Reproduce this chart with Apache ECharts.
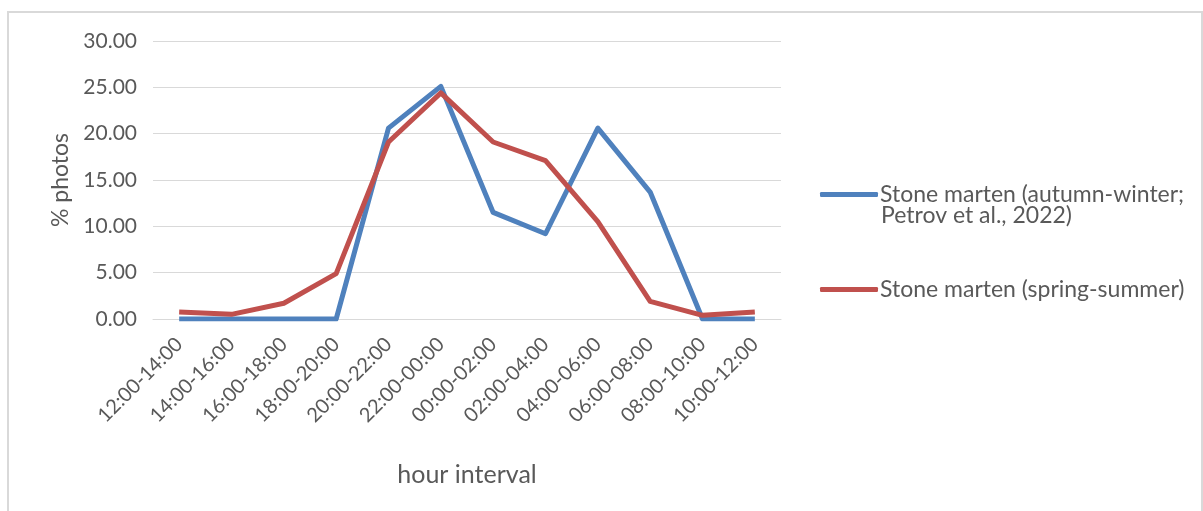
<!DOCTYPE html>
<html>
<head>
<meta charset="utf-8">
<script src="https://cdn.jsdelivr.net/npm/echarts@6/dist/echarts.min.js"></script>
<style>
html,body{margin:0;padding:0;background:#fff;}
#c{width:1203px;height:511px;}
</style>
</head>
<body>
<div id="c"></div>
<script>
const categories = ['12:00-14:00','14:00-16:00','16:00-18:00','18:00-20:00','20:00-22:00','22:00-00:00','00:00-02:00','02:00-04:00','04:00-06:00','06:00-08:00','08:00-10:00','10:00-12:00'];
const autumnWinter = [0.0, 0.0, 0.0, 0.0, 20.6, 25.1, 11.5, 9.2, 20.6, 13.7, 0.0, 0.0];
const springSummer = [0.75, 0.5, 1.7, 4.9, 19.1, 24.4, 19.1, 17.1, 10.5, 1.9, 0.4, 0.75];
const seriesNames = ['Stone marten (autumn-winter; Petrov et al., 2022)', 'Stone marten (spring-summer)'];
const yTicks = [0, 5, 10, 15, 20, 25, 30];

const FONT = 'Lato, "Open Sans", sans-serif';
const TXT = '#595959';
const chart = echarts.init(document.getElementById('c'), null, {renderer: 'canvas'});
chart.setOption({
  animation: false,
  backgroundColor: '#ffffff',
  graphic: [
    {type: 'rect', shape: {x: 8, y: 12, width: 1194, height: 520}, style: {fill: 'none', stroke: '#d9d9d9', lineWidth: 2}, silent: true, z: -1},
    {type: 'text', left: 881, top: 204, style: {text: 'Petrov et al., 2022)', font: '23px ' + FONT, fill: TXT}}
  ],
  grid: {left: 153, right: 422, top: 41, bottom: 192},
  legend: {
    orient: 'vertical',
    left: 815,
    top: 178,
    itemWidth: 58,
    itemHeight: 5,
    itemGap: 72,
    icon: 'roundRect',
    data: seriesNames,
    formatter: function (n) { return n === seriesNames[0] ? 'Stone marten (autumn-winter;' : n; },
    textStyle: {fontFamily: FONT, fontSize: 23, color: TXT, padding: [0, 0, 0, -3]}
  },
  xAxis: {
    type: 'category',
    data: categories,
    boundaryGap: true,
    name: 'hour interval',
    nameLocation: 'middle',
    nameGap: 143,
    nameTextStyle: {fontFamily: FONT, fontSize: 25, color: TXT},
    axisLine: {lineStyle: {color: '#d9d9d9', width: 1}},
    axisTick: {show: false},
    axisLabel: {rotate: 45, interval: 0, margin: 22, fontFamily: FONT, fontSize: 20, color: TXT}
  },
  yAxis: {
    type: 'value',
    min: 0, max: 30, interval: 5,
    name: '% photos',
    nameLocation: 'middle',
    nameGap: 81,
    nameTextStyle: {fontFamily: FONT, fontSize: 23, color: TXT},
    axisLine: {show: false},
    axisTick: {show: false},
    splitLine: {lineStyle: {color: '#d9d9d9', width: 1}},
    axisLabel: {margin: 16, fontFamily: FONT, fontSize: 21, color: TXT, formatter: function (v) { return v.toFixed(2); }}
  },
  series: [
    {name: seriesNames[0], type: 'line', data: autumnWinter, showSymbol: false, symbol: 'none', lineStyle: {color: '#4F81BD', width: 5, join: 'round'}, itemStyle: {color: '#4F81BD'}, z: 2},
    {name: seriesNames[1], type: 'line', data: springSummer, showSymbol: false, symbol: 'none', lineStyle: {color: '#C0504D', width: 5, join: 'round'}, itemStyle: {color: '#C0504D'}, z: 3}
  ]
});
</script>
</body>
</html>
